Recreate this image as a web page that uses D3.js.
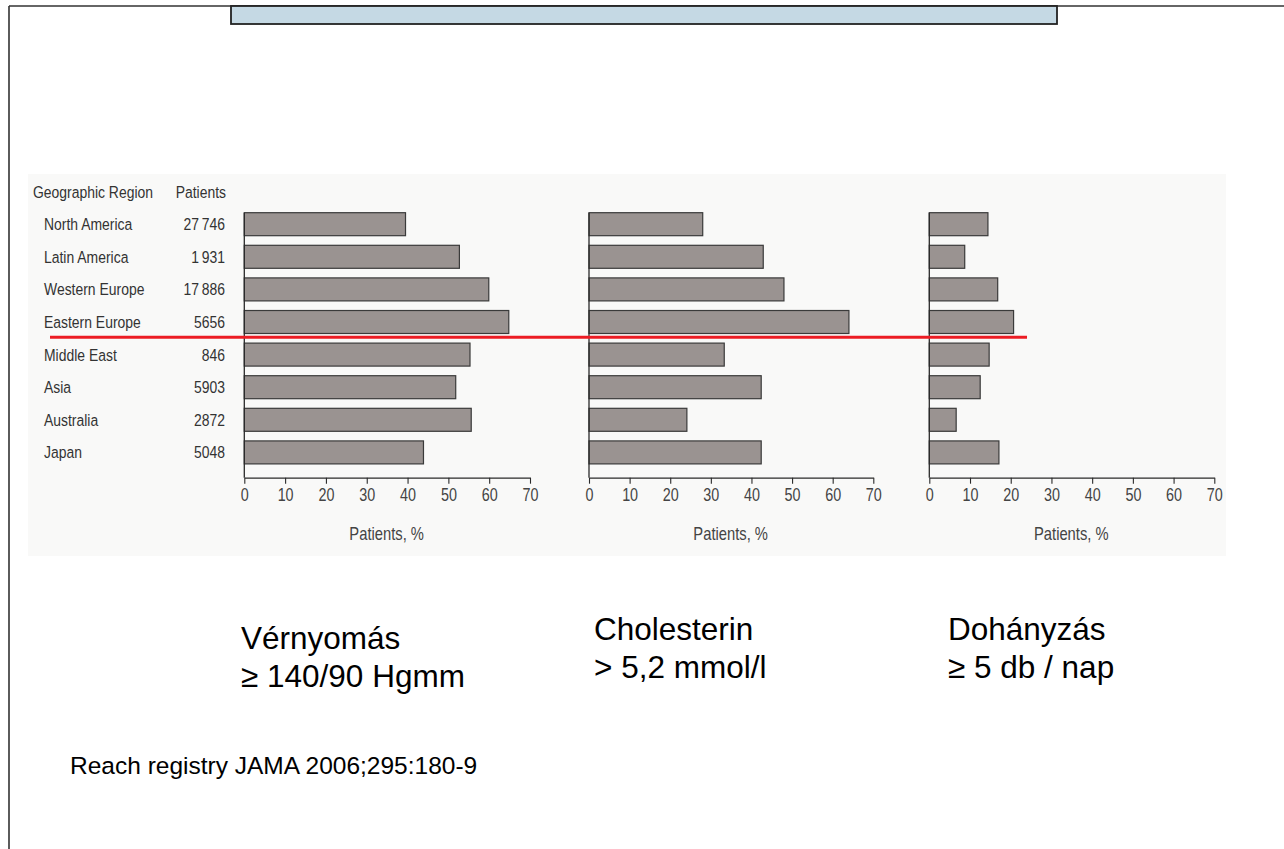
<!DOCTYPE html>
<html>
<head>
<meta charset="utf-8">
<script src="https://cdn.jsdelivr.net/npm/d3@7"></script>
<style>
  html, body { margin: 0; padding: 0; background: #ffffff; }
  svg { display: block; }
  text { font-family: "Liberation Sans", Arial, sans-serif; }
</style>
</head>
<body>
<svg id="chart" width="1284" height="849"></svg>
<script>
// ---- data ----
const regions = ["North America", "Latin America", "Western Europe", "Eastern Europe",
                 "Middle East", "Asia", "Australia", "Japan"];
const patients = ["27\u2009746", "1\u2009931", "17\u2009886", "5656", "846", "5903", "2872", "5048"];
const bloodPressure = [39.5, 52.7, 59.9, 64.8, 55.3, 51.8, 55.6, 43.9];
const cholesterol   = [28.0, 42.9, 48.0, 64.0, 33.3, 42.4, 24.1, 42.4];
const smoking       = [14.4, 8.7, 16.8, 20.7, 14.7, 12.5, 6.6, 17.1];
const xTicks = [0, 10, 20, 30, 40, 50, 60, 70];
const axisTitle = "Patients, %";
const headerRegion = "Geographic Region";
const headerPatients = "Patients";
const captions = [
  ["Vérnyomás", "\u2265 140/90 Hgmm"],
  ["Cholesterin", "> 5,2 mmol/l"],
  ["Dohányzás", "\u2265 5 db / nap"]
];
const source = "Reach registry JAMA 2006;295:180-9";
const separatorAfter = "Eastern Europe";
const separatorExtent = 24; // in % units of the last panel

// ---- layout ----
const svg = d3.select("#chart");
const W = 1284, H = 849;
const NARROW = 0.82;       // condensed look of the original figure font
const textColor = "#333";

function narrowText(parent, x, y, str, size, anchor) {
  return parent.append("text")
    .attr("transform", `translate(${x},${y}) scale(${NARROW},1)`)
    .attr("dominant-baseline", "central")
    .attr("text-anchor", anchor || "start")
    .attr("font-size", size)
    .attr("fill", textColor)
    .text(str);
}

// slide frame
svg.append("line").attr("x1", 9).attr("x2", W).attr("y1", 6).attr("y2", 6)
  .attr("stroke", "#333").attr("stroke-width", 1.6);
svg.append("line").attr("x1", 9).attr("x2", 9).attr("y1", 6).attr("y2", H)
  .attr("stroke", "#333").attr("stroke-width", 1.6);
// title placeholder box
svg.append("rect").attr("x", 231).attr("y", 6).attr("width", 826).attr("height", 18)
  .attr("fill", "#c5d9e4").attr("stroke", "#222").attr("stroke-width", 1.8);

// chart background image area
svg.append("rect").attr("x", 28).attr("y", 174).attr("width", 1198).attr("height", 382)
  .attr("fill", "#f9f9f8");

const y = d3.scaleBand().domain(regions).range([212.7, 463.9]).paddingInner(0.295).paddingOuter(0);
const axisY = 477.7;

const panels = [
  { values: bloodPressure, range: [244.3, 530.0] },
  { values: cholesterol,   range: [589.0, 873.3] },
  { values: smoking,       range: [929.3, 1214.3] }
];

// headers
narrowText(svg, 33, y(regions[0]) - 21, headerRegion, 17);
narrowText(svg, 226, y(regions[0]) - 21, headerPatients, 17, "end");

// row labels
regions.forEach((r, i) => {
  const cy = y(r) + y.bandwidth() / 2;
  narrowText(svg, 44, cy, r, 17);
  narrowText(svg, 225, cy, patients[i], 17, "end");
});

let lastX = null;
panels.forEach(p => {
  const x = d3.scaleLinear().domain([0, 70]).range(p.range);
  lastX = x;
  const g = svg.append("g");
  // bars
  g.selectAll("rect").data(p.values).join("rect")
    .attr("x", x(0)).attr("y", (d, i) => y(regions[i]))
    .attr("width", d => x(d) - x(0)).attr("height", y.bandwidth())
    .attr("fill", "#9a9391").attr("stroke", "#3a3a3a").attr("stroke-width", 1.2);
  // vertical axis line
  g.append("line").attr("x1", x(0)).attr("x2", x(0))
    .attr("y1", y(regions[0])).attr("y2", axisY)
    .attr("stroke", "#2a2a2a").attr("stroke-width", 1.3);
  // x axis
  const ax = g.append("g").attr("transform", `translate(0,${axisY})`)
    .call(d3.axisBottom(x).tickValues(xTicks).tickSize(6).tickPadding(5).tickSizeOuter(0));
  ax.attr("font-family", null);
  ax.select(".domain").attr("stroke", "#2a2a2a").attr("stroke-width", 1.3);
  ax.selectAll(".tick line").attr("stroke", "#2a2a2a").attr("stroke-width", 1.1);
  ax.selectAll(".tick text")
    .attr("font-size", 17.5).attr("fill", "#444")
    .attr("transform", `scale(${NARROW},1)`);
  // axis title
  narrowText(g, (p.range[0] + p.range[1]) / 2 - 0.5, axisY + 56, axisTitle, 18, "middle")
    .attr("fill", "#444");
});

// red separator line
const sepIdx = regions.indexOf(separatorAfter);
const sepY = (y(regions[sepIdx]) + y.bandwidth() + y(regions[sepIdx + 1])) / 2 - 1;
svg.append("line").attr("x1", 50).attr("x2", lastX(separatorExtent))
  .attr("y1", sepY).attr("y2", sepY)
  .attr("stroke", "#ec1c24").attr("stroke-width", 3);

// captions
const capPos = [[241, 649], [594, 640], [948, 640]];
captions.forEach((c, i) => {
  const t = svg.append("text").attr("font-size", 31.5).attr("fill", "#000");
  c.forEach((line, j) => {
    t.append("tspan").attr("x", capPos[i][0]).attr("y", capPos[i][1] + j * 37.5).text(line);
  });
});

// source
svg.append("text").attr("x", 70).attr("y", 774).attr("font-size", 24.5).attr("fill", "#000").text(source);
</script>
</body>
</html>
